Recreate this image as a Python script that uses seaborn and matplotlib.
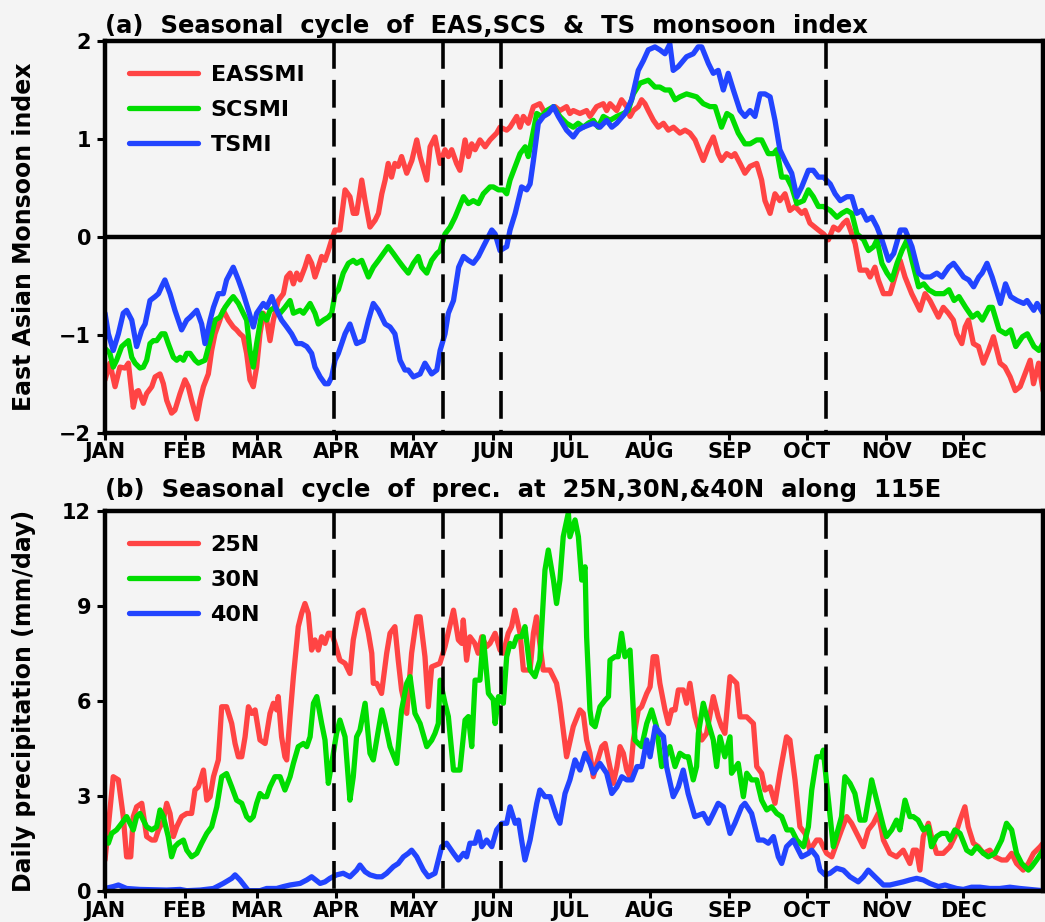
import matplotlib
matplotlib.use("Agg")
import matplotlib.pyplot as plt
import pandas as pd
import seaborn as sns

# ---------------------------------------------------------------- axes info
MONTHS = ["JAN", "FEB", "MAR", "APR", "MAY", "JUN",
          "JUL", "AUG", "SEP", "OCT", "NOV", "DEC"]
MONTH_START = [0, 31, 59, 90, 120, 151, 181, 212, 243, 273, 304, 334]
ONSET_DAYS = [89, 131.5, 154, 280.5]

# ------------------------------------------- (a) monsoon indices (day, value)
eas_day = [0, 1.9, 3.9, 5.8, 7.8, 9.1, 11.0, 12.3, 13.0, 14.9, 16.2, 18.2, 19.5, 21.4, 22.7, 24.0, 25.9, 27.2,
           29.2, 31.1, 32.4, 33.7, 35.7, 37.0, 38.3, 40.2, 41.5, 42.8, 44.7, 46.0, 48.0, 49.9, 51.2, 52.5,
           53.8, 55.1, 56.4, 57.7, 59.0, 60.3, 61.6, 62.9, 64.2, 65.5, 67.4, 69.4, 70.7, 72.0, 73.3, 74.6,
           75.9, 77.8, 79.1, 80.4, 81.7, 83.0, 84.3, 85.6, 86.9, 88.2, 89.5, 91.4, 93.4, 95.3, 96.6, 97.9,
           99.9, 101.2, 103.1, 105.1, 106.4, 107.7, 109.0, 110.2, 111.5, 112.8, 114.1, 115.4, 117.4, 119.4,
           121.3, 122.6, 125.2, 126.5, 128.4, 130.4, 132.3, 133.6, 134.9, 136.8, 138.1, 140.1, 141.4, 142.7,
           144.0, 145.9, 147.9, 149.8, 152.4, 153.7, 156.3, 157.6, 160.2, 161.5, 162.8, 164.7, 166.7, 169.2,
           171.2, 173.1, 175.1, 177.0, 179.6, 180.9, 182.2, 184.8, 187.4, 188.7, 191.3, 193.9, 195.2, 196.5,
           199.1, 201.0, 203.0, 204.3, 205.6, 207.5, 208.8, 210.1, 211.4, 213.4, 215.3, 217.3, 219.2, 221.2,
           223.7, 225.7, 227.6, 229.6, 232.8, 234.8, 236.7, 238.6, 239.9, 241.9, 243.8, 245.1, 247.1, 249.0,
           251.0, 253.6, 255.5, 256.8, 258.8, 260.7, 262.6, 264.6, 266.5, 268.5, 271.1, 272.4, 274.3, 277.6,
           279.6, 281.5, 283.5, 285.4, 287.4, 288.7, 290.6, 291.9, 293.8, 296.4, 297.7, 299.6, 300.9, 302.9,
           305.5, 307.4, 309.4, 311.3, 313.9, 317.1, 319.1, 321.0, 324.3, 326.2, 328.2, 330.1, 331.4, 333.4,
           334.7, 336.0, 337.9, 339.9, 341.8, 343.8, 345.7, 348.3, 350.2, 352.2, 354.2, 356.1, 360.0, 361.3,
           363.3, 365.0]
eas_val = [-1.46, -1.29, -1.53, -1.33, -1.34, -1.29, -1.74, -1.58, -1.57, -1.70, -1.60, -1.53, -1.43, -1.40,
           -1.50, -1.67, -1.80, -1.77, -1.60, -1.46, -1.53, -1.67, -1.86, -1.67, -1.53, -1.40, -1.16, -0.99,
           -0.85, -0.75, -0.85, -0.92, -0.95, -0.99, -1.02, -1.19, -1.46, -1.53, -1.33, -0.99, -0.78, -0.85,
           -1.06, -0.85, -0.65, -0.58, -0.41, -0.37, -0.48, -0.37, -0.44, -0.31, -0.20, -0.27, -0.41, -0.31,
           -0.20, -0.24, -0.14, -0.03, 0.07, 0.07, 0.48, 0.41, 0.24, 0.24, 0.58, 0.37, 0.10, 0.17, 0.24, 0.44,
           0.58, 0.75, 0.61, 0.75, 0.72, 0.82, 0.65, 0.78, 0.99, 0.82, 0.58, 0.92, 1.02, 0.75, 0.89, 0.82,
           0.89, 0.75, 0.68, 0.99, 0.82, 0.95, 0.89, 0.99, 0.92, 0.99, 1.06, 1.12, 1.09, 1.12, 1.23, 1.12,
           1.23, 1.16, 1.33, 1.36, 1.26, 1.29, 1.33, 1.29, 1.33, 1.26, 1.29, 1.26, 1.29, 1.23, 1.33, 1.36,
           1.29, 1.36, 1.29, 1.40, 1.33, 1.23, 1.29, 1.33, 1.40, 1.36, 1.29, 1.19, 1.12, 1.16, 1.09, 1.12,
           1.06, 1.09, 1.06, 0.99, 0.78, 0.92, 1.02, 0.85, 0.78, 0.85, 0.82, 0.85, 0.75, 0.65, 0.72, 0.75,
           0.58, 0.37, 0.24, 0.44, 0.37, 0.44, 0.27, 0.31, 0.24, 0.27, 0.14, 0.07, 0.03, -0.03, 0.10, 0.07,
           0.14, 0.17, 0.03, -0.07, -0.34, -0.34, -0.41, -0.31, -0.44, -0.58, -0.58, -0.41, -0.24, -0.41,
           -0.58, -0.75, -0.58, -0.65, -0.82, -0.72, -0.78, -0.85, -0.99, -1.09, -0.92, -0.85, -1.09, -1.12,
           -1.29, -1.16, -1.02, -1.29, -1.33, -1.43, -1.57, -1.53, -1.26, -1.50, -1.29, -1.57]

scs_day = [0, 1.9, 3.2, 4.5, 6.5, 7.8, 9.1, 10.4, 11.7, 13.6, 14.9, 16.2, 17.5, 18.8, 20.1, 22.0, 23.3, 24.6,
           26.6, 27.9, 29.2, 30.5, 31.8, 33.1, 35.0, 36.3, 38.9, 40.9, 42.8, 44.7, 46.7, 48.6, 49.9, 51.9,
           53.2, 55.1, 56.4, 57.7, 59.0, 61.0, 62.9, 64.2, 66.1, 68.1, 70.0, 72.0, 73.3, 75.9, 77.2, 79.8,
           81.7, 83.0, 85.0, 86.9, 88.2, 89.5, 90.8, 92.7, 94.7, 96.6, 97.9, 99.9, 102.5, 104.4, 106.4, 108.3,
           110.2, 112.2, 114.1, 116.1, 118.0, 120.0, 121.9, 123.2, 125.2, 127.1, 129.1, 130.4, 132.3, 134.3,
           136.2, 139.5, 141.4, 143.3, 145.3, 147.2, 149.8, 151.1, 153.1, 155.0, 156.3, 157.6, 159.6, 161.5,
           163.5, 164.7, 166.0, 168.0, 169.9, 171.9, 174.5, 177.0, 179.6, 182.2, 184.1, 186.1, 188.0, 190.0,
           191.9, 193.9, 196.5, 199.1, 201.7, 203.6, 205.6, 208.2, 211.4, 214.0, 215.9, 217.9, 219.8, 221.8,
           223.7, 226.3, 230.2, 232.8, 235.4, 237.4, 239.9, 242.0, 243.8, 246.4, 249.0, 251.0, 253.6, 255.5,
           258.1, 260.1, 261.4, 263.3, 265.3, 267.2, 269.2, 271.8, 273.7, 275.6, 277.6, 279.6, 282.2, 284.8,
           286.7, 288.7, 290.6, 292.6, 295.2, 297.1, 299.1, 300.4, 302.3, 304.3, 306.2, 308.2, 310.1, 312.1,
           314.0, 316.6, 318.6, 320.5, 323.1, 326.4, 328.4, 330.4, 332.3, 334.9, 337.5, 339.5, 341.4, 344.0,
           345.3, 347.9, 350.5, 352.4, 354.4, 357.0, 358.9, 361.5, 363.4, 365.0]
scs_val = [-1.14, -1.19, -1.33, -1.26, -1.12, -1.09, -1.06, -1.23, -1.29, -1.34, -1.33, -1.26, -1.09, -1.06,
           -1.06, -0.99, -0.99, -1.09, -1.23, -1.26, -1.23, -1.26, -1.19, -1.19, -1.26, -1.29, -1.26, -1.06,
           -0.85, -0.82, -0.72, -0.65, -0.61, -0.68, -0.75, -0.85, -1.16, -1.33, -1.09, -0.78, -0.85, -0.75,
           -0.72, -0.78, -0.72, -0.65, -0.78, -0.75, -0.78, -0.68, -0.78, -0.89, -0.85, -0.82, -0.78, -0.58,
           -0.54, -0.37, -0.27, -0.24, -0.27, -0.24, -0.41, -0.31, -0.24, -0.17, -0.10, -0.17, -0.24, -0.31,
           -0.37, -0.27, -0.20, -0.31, -0.37, -0.24, -0.17, -0.14, 0.03, 0.10, 0.20, 0.41, 0.34, 0.37, 0.34,
           0.44, 0.51, 0.51, 0.48, 0.48, 0.44, 0.58, 0.72, 0.85, 0.92, 0.82, 0.99, 1.26, 1.23, 1.29, 1.33,
           1.23, 1.16, 1.12, 1.16, 1.12, 1.16, 1.19, 1.12, 1.23, 1.19, 1.23, 1.26, 1.29, 1.46, 1.57, 1.60,
           1.53, 1.53, 1.50, 1.50, 1.40, 1.43, 1.46, 1.43, 1.36, 1.33, 1.33, 1.12, 1.26, 1.23, 1.06, 0.95,
           0.95, 0.99, 0.99, 0.85, 0.85, 0.89, 0.61, 0.61, 0.51, 0.34, 0.37, 0.48, 0.41, 0.31, 0.31, 0.27,
           0.20, 0.24, 0.27, 0.24, 0.03, -0.03, -0.14, -0.10, -0.03, -0.27, -0.37, -0.44, -0.27, -0.14, -0.03,
           -0.24, -0.51, -0.48, -0.54, -0.58, -0.58, -0.54, -0.65, -0.61, -0.72, -0.82, -0.78, -0.85, -0.72,
           -0.72, -0.95, -0.99, -0.95, -1.12, -1.02, -0.99, -1.12, -1.16, -1.09]

ts_day = [0, 1.3, 3.2, 5.2, 7.1, 8.4, 10.4, 12.3, 14.3, 15.6, 17.5, 19.5, 20.8, 22.0, 23.3, 25.3, 27.2, 29.8,
          31.8, 33.1, 35.7, 37.6, 38.9, 40.9, 42.2, 44.1, 46.0, 47.3, 49.9, 51.9, 53.8, 55.8, 57.7, 59.0,
          61.6, 62.9, 64.9, 66.8, 68.7, 70.7, 72.6, 74.6, 76.5, 78.5, 80.4, 81.7, 83.7, 85.6, 86.9, 88.2,
          89.5, 90.8, 93.4, 95.3, 97.9, 100.5, 102.5, 104.4, 106.4, 109.0, 110.9, 112.8, 114.8, 116.7, 118.0,
          120.0, 122.6, 124.5, 127.1, 129.1, 130.4, 132.3, 133.6, 135.6, 137.6, 139.5, 141.4, 143.3, 145.3,
          147.2, 150.5, 151.8, 153.7, 156.3, 157.6, 159.6, 162.1, 164.1, 165.4, 166.7, 168.6, 170.6, 172.5,
          174.5, 176.4, 179.6, 182.2, 184.1, 186.1, 190.0, 192.6, 195.2, 197.2, 199.1, 202.4, 204.9, 207.5,
          209.5, 211.4, 214.0, 215.9, 217.9, 219.8, 221.1, 223.1, 226.3, 228.9, 230.8, 232.2, 234.8, 236.7,
          238.6, 240.6, 242.5, 244.5, 247.1, 249.0, 251.0, 252.9, 254.9, 256.8, 258.8, 260.7, 262.6, 264.6,
          267.2, 269.2, 271.1, 273.7, 275.6, 277.6, 279.6, 282.2, 284.1, 286.1, 288.7, 290.6, 292.5, 294.5,
          296.4, 298.4, 300.4, 302.3, 304.9, 306.9, 309.5, 311.4, 314.0, 316.6, 318.6, 321.2, 323.7, 325.7,
          328.3, 330.2, 332.2, 334.1, 336.1, 338.0, 340.0, 341.3, 343.2, 345.2, 347.2, 348.4, 350.4, 352.4,
          354.9, 357.5, 358.8, 361.4, 362.7, 365.0]
ts_val = [-0.78, -0.99, -1.16, -0.99, -0.78, -0.75, -0.85, -1.12, -0.95, -0.89, -0.65, -0.61, -0.58, -0.51,
          -0.44, -0.58, -0.75, -0.95, -0.85, -0.82, -0.75, -0.89, -1.09, -0.85, -0.72, -0.58, -0.58, -0.44,
          -0.31, -0.44, -0.58, -0.75, -0.92, -0.78, -0.68, -0.72, -0.61, -0.75, -0.85, -0.92, -0.99, -1.09,
          -1.09, -1.12, -1.19, -1.33, -1.43, -1.50, -1.50, -1.43, -1.26, -1.19, -0.99, -0.89, -1.09, -1.06,
          -0.85, -0.68, -0.75, -0.89, -0.92, -0.99, -1.26, -1.36, -1.36, -1.43, -1.40, -1.29, -1.40, -1.36,
          -1.16, -0.99, -0.78, -0.65, -0.31, -0.20, -0.24, -0.27, -0.20, -0.10, 0.07, 0.03, -0.14, -0.10,
          0.07, 0.24, 0.51, 0.48, 0.54, 0.78, 1.16, 1.23, 1.26, 1.33, 1.23, 1.09, 1.02, 1.09, 1.12, 1.16,
          1.12, 1.19, 1.12, 1.16, 1.26, 1.40, 1.70, 1.80, 1.91, 1.94, 1.91, 1.87, 1.97, 1.70, 1.74, 1.84,
          1.87, 1.94, 1.94, 1.77, 1.67, 1.70, 1.50, 1.67, 1.50, 1.29, 1.23, 1.29, 1.23, 1.46, 1.46, 1.43,
          1.19, 0.89, 0.78, 0.65, 0.41, 0.51, 0.68, 0.68, 0.61, 0.61, 0.54, 0.44, 0.37, 0.41, 0.41, 0.24,
          0.27, 0.17, 0.20, 0.10, -0.03, -0.24, -0.17, 0.07, 0.07, -0.10, -0.37, -0.41, -0.41, -0.37, -0.41,
          -0.31, -0.27, -0.34, -0.41, -0.44, -0.51, -0.41, -0.37, -0.27, -0.41, -0.58, -0.68, -0.48, -0.61,
          -0.65, -0.68, -0.65, -0.75, -0.68, -0.78]

# ---------------------------------------- (b) daily precipitation (day, mm/day)
p25_day = [0, 3.2, 5.2, 7.1, 8.4, 10.0, 11.0, 12.3, 14.3, 16.2, 18.2, 19.5, 20.8, 22.7, 24.0, 25.3, 26.6, 27.9,
           29.8, 31.8, 33.7, 35.0, 36.3, 38.3, 39.6, 40.9, 42.2, 44.1, 45.4, 47.3, 49.3, 50.6, 51.9, 53.2,
           54.5, 55.8, 57.1, 58.4, 60.3, 62.3, 64.2, 65.5, 66.8, 67.4, 68.7, 70.0, 70.7, 72.0, 73.3, 75.2,
           76.5, 77.8, 79.1, 80.4, 81.7, 83.0, 84.3, 85.6, 86.9, 88.2, 89.5, 91.4, 93.4, 95.3, 96.6, 98.6,
           100.5, 102.5, 103.8, 104.4, 105.7, 107.6, 109.6, 110.9, 112.8, 114.1, 115.4, 117.4, 119.3, 121.3,
           122.6, 124.5, 125.8, 127.1, 130.3, 132.3, 135.6, 137.5, 138.8, 139.4, 140.7, 142.0, 143.9, 145.2,
           146.6, 148.5, 149.8, 151.8, 153.7, 155.0, 156.9, 158.2, 159.5, 161.5, 162.8, 165.4, 166.7, 167.9,
           170.5, 173.1, 175.7, 177.0, 179.6, 182.2, 184.8, 186.1, 187.4, 188.7, 190.0, 191.3, 193.3, 194.6,
           195.9, 197.8, 199.2, 200.4, 201.7, 203.0, 204.3, 205.6, 207.5, 208.8, 210.8, 212.1, 213.3, 214.6,
           215.9, 217.9, 219.2, 220.5, 221.8, 223.1, 225.0, 226.3, 227.6, 229.6, 232.2, 234.1, 236.7, 238.6,
           239.9, 241.2, 243.2, 245.8, 247.1, 249.7, 252.3, 253.6, 255.5, 256.8, 258.8, 260.7, 262.6, 265.2,
           266.5, 268.5, 270.4, 272.4, 274.3, 276.9, 278.2, 280.8, 282.8, 284.7, 286.6, 288.6, 290.5, 292.5,
           295.1, 297.0, 299.0, 300.9, 302.9, 305.4, 308.0, 310.6, 313.2, 314.5, 315.8, 317.1, 318.4, 320.4,
           321.6, 323.6, 326.2, 328.8, 330.7, 332.7, 334.6, 335.9, 337.9, 339.8, 341.8, 344.3, 346.3, 348.9,
           350.8, 352.8, 354.7, 357.3, 359.3, 361.3, 363.9, 365.0]
p25_val = [0.98, 3.61, 3.51, 2.35, 1.08, 1.08, 2.35, 2.66, 2.77, 1.72, 1.61, 1.61, 1.93, 2.24, 2.77, 2.45, 1.72,
           2.03, 2.35, 2.45, 2.45, 3.19, 3.29, 3.82, 2.87, 2.98, 3.61, 4.14, 5.82, 5.82, 5.29, 4.66, 4.24, 4.24,
           4.87, 5.82, 5.61, 5.72, 4.77, 4.66, 5.61, 5.93, 5.72, 6.14, 4.87, 4.24, 4.14, 5.51, 6.77, 8.35, 8.77,
           9.08, 8.77, 7.61, 7.93, 7.61, 8.03, 7.82, 8.14, 8.14, 7.82, 7.29, 7.19, 6.87, 7.93, 8.77, 8.87, 8.14,
           7.51, 6.56, 6.56, 6.24, 7.51, 8.14, 8.35, 7.29, 6.35, 5.61, 7.51, 8.66, 8.66, 7.40, 5.82, 7.08, 7.19,
           7.72, 8.87, 7.93, 7.82, 8.56, 7.29, 8.03, 7.82, 7.51, 8.03, 7.72, 7.82, 8.14, 7.61, 7.51, 8.14, 8.35,
           8.87, 8.14, 6.98, 6.98, 8.14, 8.66, 6.98, 6.98, 6.56, 5.93, 4.24, 5.19, 5.72, 5.61, 4.77, 4.35, 3.61,
           4.03, 4.56, 4.66, 4.14, 3.40, 3.93, 4.56, 4.35, 3.82, 3.61, 4.77, 5.72, 5.82, 6.24, 6.45, 7.40, 7.40,
           6.56, 5.72, 5.29, 5.72, 5.72, 6.35, 6.35, 5.93, 6.56, 5.50, 4.77, 4.98, 6.14, 5.50, 5.19, 4.98, 6.77,
           6.56, 5.50, 5.50, 5.29, 3.93, 3.72, 3.19, 3.29, 2.77, 3.72, 4.87, 4.77, 3.51, 2.03, 1.82, 1.29, 1.61,
           1.61, 1.19, 1.08, 1.51, 1.93, 2.35, 2.14, 1.82, 1.40, 1.93, 2.14, 2.45, 1.61, 1.19, 1.08, 1.29, 0.87,
           1.29, 1.29, 0.66, 1.72, 2.14, 1.72, 1.19, 1.19, 1.40, 1.72, 2.24, 2.66, 2.03, 1.51, 1.40, 1.19, 1.29,
           1.08, 0.98, 0.98, 1.19, 0.87, 0.66, 0.87, 1.19, 1.40, 1.51]

p30_day = [0, 1.3, 2.6, 4.5, 6.5, 8.4, 9.7, 11.0, 12.3, 13.6, 14.9, 16.2, 18.2, 20.1, 21.4, 22.7, 24.6, 25.9,
           27.2, 28.5, 30.5, 31.8, 33.7, 35.7, 37.6, 39.6, 41.5, 43.5, 45.4, 47.3, 49.3, 51.2, 53.2, 55.1,
           56.4, 57.7, 59.0, 60.3, 61.6, 62.9, 64.2, 66.1, 68.1, 70.0, 72.0, 73.3, 75.2, 77.2, 78.5, 79.8,
           81.1, 82.4, 84.3, 85.6, 86.9, 88.2, 90.1, 91.4, 93.4, 95.3, 96.6, 97.9, 99.2, 101.2, 103.1, 104.4,
           105.7, 107.7, 109.0, 110.9, 113.5, 115.4, 117.4, 118.7, 120.6, 122.6, 125.2, 127.1, 128.4, 129.7,
           130.4, 132.3, 133.6, 135.6, 138.1, 140.1, 141.4, 142.7, 144.0, 145.9, 147.2, 149.2, 151.1, 151.8,
           153.1, 155.0, 156.3, 157.6, 158.9, 160.2, 162.1, 163.4, 165.4, 167.3, 169.2, 171.2, 172.5, 174.5,
           175.7, 177.0, 178.3, 180.3, 180.9, 182.9, 184.2, 185.5, 186.8, 187.4, 188.7, 189.4, 190.7, 192.6,
           194.6, 195.9, 196.5, 198.4, 199.7, 201.0, 202.3, 204.3, 206.2, 207.5, 208.8, 210.8, 212.7, 214.6,
           216.6, 219.8, 221.8, 223.7, 225.7, 227.0, 228.9, 230.2, 230.9, 232.8, 234.8, 236.7, 238.0, 239.3,
           241.2, 243.2, 243.8, 246.4, 248.4, 249.7, 251.6, 253.6, 255.5, 257.5, 259.4, 261.4, 263.3, 265.3,
           267.2, 269.2, 271.8, 273.7, 275.0, 277.0, 278.9, 279.5, 280.8, 283.4, 286.6, 287.9, 289.9, 291.8,
           293.8, 295.7, 297.7, 298.3, 300.3, 302.9, 304.1, 306.1, 308.0, 309.3, 311.3, 313.2, 314.5, 316.4,
           318.4, 320.4, 321.6, 323.6, 325.5, 327.5, 328.8, 330.7, 332.7, 335.3, 337.2, 339.2, 341.8, 343.7,
           346.3, 348.9, 350.8, 352.8, 354.7, 356.7, 359.3, 360.6, 362.5, 365.0]
p30_val = [1.72, 1.51, 1.82, 1.93, 2.14, 2.35, 2.14, 1.93, 2.35, 2.45, 2.24, 2.03, 1.93, 2.03, 2.56, 2.35, 1.72,
           1.08, 1.40, 1.51, 1.61, 1.29, 1.08, 1.19, 1.51, 1.82, 2.03, 2.66, 3.61, 3.71, 3.29, 2.87, 2.77, 2.35,
           2.24, 2.35, 2.77, 3.08, 2.98, 2.98, 3.29, 3.61, 3.61, 3.19, 3.61, 4.03, 4.56, 4.66, 4.56, 4.87, 5.93,
           6.14, 5.29, 4.77, 3.40, 4.03, 4.98, 5.40, 4.87, 2.87, 3.61, 4.87, 5.08, 5.93, 4.35, 4.14, 4.76, 5.72,
           5.29, 4.56, 4.03, 5.72, 6.56, 6.77, 5.61, 5.29, 4.56, 4.76, 4.98, 5.29, 6.66, 5.93, 5.51, 3.82, 3.82,
           5.40, 5.51, 4.56, 6.66, 6.66, 8.03, 6.24, 6.04, 5.29, 6.14, 5.93, 7.40, 7.82, 7.72, 8.03, 8.03, 8.35,
           6.98, 6.77, 7.29, 10.14, 10.77, 9.82, 9.08, 9.82, 11.19, 11.95, 11.19, 11.72, 11.19, 9.82, 10.24,
           8.03, 5.72, 5.29, 5.19, 5.82, 6.03, 6.14, 7.29, 7.40, 7.40, 8.14, 7.40, 7.61, 4.77, 4.66, 4.56, 5.29,
           5.72, 5.19, 3.93, 4.56, 3.93, 4.35, 4.24, 4.24, 3.51, 3.93, 4.98, 5.93, 5.30, 4.77, 3.93, 4.87, 4.24,
           4.87, 3.72, 4.03, 2.98, 3.72, 3.51, 3.51, 2.87, 2.56, 2.66, 2.45, 2.35, 1.93, 1.93, 1.61, 1.40, 2.03,
           3.19, 4.24, 4.24, 4.45, 3.40, 1.40, 2.35, 3.61, 3.40, 3.08, 2.24, 2.24, 3.19, 3.51, 2.87, 2.03, 1.72,
           1.93, 2.24, 1.93, 2.87, 2.35, 2.35, 2.24, 1.93, 2.03, 1.40, 1.72, 1.82, 1.82, 1.61, 1.93, 1.82, 1.29,
           1.19, 1.40, 1.19, 1.08, 1.19, 1.61, 2.14, 1.93, 1.19, 0.87, 0.66, 0.77, 0.98, 1.29]

p40_day = [0, 3.2, 5.2, 8.4, 13.6, 24.0, 29.2, 31.8, 37.0, 42.2, 46.0, 49.3, 50.6, 52.5, 55.8, 60.3, 62.9, 66.8,
           69.4, 72.0, 75.9, 78.5, 80.4, 83.7, 85.6, 87.5, 90.1, 92.7, 95.3, 97.9, 99.2, 101.2, 103.1, 105.7,
           107.7, 109.6, 112.2, 114.1, 116.1, 118.0, 119.3, 121.3, 123.9, 125.8, 128.4, 129.7, 131.0, 132.9,
           135.6, 137.5, 139.5, 140.7, 142.0, 144.0, 145.3, 146.6, 148.5, 150.5, 152.4, 154.4, 156.3, 157.6,
           159.6, 160.9, 162.1, 163.4, 165.4, 168.0, 169.2, 171.2, 173.2, 175.7, 177.0, 179.0, 180.9, 182.9,
           184.8, 186.8, 188.7, 190.0, 192.6, 195.2, 197.2, 199.2, 201.1, 203.0, 205.0, 207.0, 208.9, 210.8,
           212.1, 214.1, 216.0, 217.3, 218.5, 221.1, 223.1, 225.0, 226.9, 229.5, 232.8, 234.8, 236.7, 238.6,
           240.6, 243.2, 245.1, 247.7, 249.0, 251.6, 254.2, 256.2, 258.1, 260.1, 262.0, 263.3, 265.2, 267.8,
           269.8, 271.1, 273.7, 275.0, 277.0, 278.2, 280.2, 282.1, 284.7, 287.3, 289.9, 293.1, 295.1, 297.0,
           299.6, 302.9, 305.4, 308.0, 310.6, 313.2, 315.8, 318.4, 321.0, 324.3, 326.9, 328.8, 331.4, 334.0,
           337.2, 340.5, 344.3, 348.2, 352.1, 356.0, 359.9, 365.0]
p40_val = [0.08, 0.14, 0.19, 0.08, 0.05, 0.03, 0.05, 0.01, 0.03, 0.08, 0.24, 0.40, 0.51, 0.35, 0.01, 0.01, 0.08,
           0.08, 0.14, 0.19, 0.24, 0.35, 0.45, 0.24, 0.29, 0.40, 0.51, 0.56, 0.45, 0.66, 0.82, 0.61, 0.51, 0.45,
           0.45, 0.56, 0.77, 0.87, 1.08, 1.19, 1.29, 1.08, 0.66, 0.45, 0.56, 0.98, 1.40, 1.51, 1.19, 0.98, 1.19,
           1.08, 1.51, 1.51, 1.87, 1.40, 1.61, 1.40, 1.93, 2.14, 2.14, 2.66, 2.14, 2.24, 1.61, 0.98, 1.61, 2.77,
           3.19, 2.98, 2.98, 2.35, 2.14, 3.08, 3.51, 4.14, 3.82, 4.35, 4.03, 3.72, 4.03, 3.72, 3.08, 3.29, 3.61,
           3.51, 3.51, 3.93, 3.93, 4.77, 4.24, 5.19, 4.98, 4.88, 3.93, 2.98, 3.29, 3.82, 3.08, 2.35, 2.45, 2.14,
           2.45, 2.77, 2.66, 1.82, 2.14, 2.66, 2.77, 2.45, 1.61, 1.61, 1.51, 1.72, 1.08, 0.87, 1.40, 1.61, 1.29,
           1.08, 1.19, 1.29, 1.08, 0.66, 0.51, 0.56, 0.72, 0.66, 0.45, 0.29, 0.45, 0.66, 0.45, 0.19, 0.19, 0.24,
           0.29, 0.35, 0.40, 0.35, 0.24, 0.14, 0.19, 0.14, 0.08, 0.05, 0.12, 0.12, 0.08, 0.08, 0.12, 0.08, 0.05,
           0.01]

# ------------------------------------------------------------------- styling
BG = "#f4f4f4"
RED, GREEN, BLUE = "#ff4444", "#00dd00", "#2244ff"
LW = 3.8

sns.set_style("ticks")
plt.rcParams.update({
    "font.family": ["DejaVu Sans"],
    "font.weight": "bold",
    "text.color": "black",
    "axes.labelcolor": "black",
    "axes.labelweight": "bold",
    "axes.edgecolor": "black",
    "axes.linewidth": 3.2,
    "lines.scale_dashes": False,
    "xtick.color": "black",
    "ytick.color": "black",
    "xtick.labelcolor": "black",
    "ytick.labelcolor": "black",
})


def long_frame(series):
    parts = [pd.DataFrame({"day": d, "value": v, "series": name}) for name, d, v in series]
    return pd.concat(parts, ignore_index=True)


def style_axes(ax, ylim, yticks, ylabel):
    ax.set_facecolor(BG)
    ax.set_xlim(0, 365)
    ax.set_ylim(*ylim)
    ax.set_xticks(MONTH_START)
    ax.set_xticklabels(MONTHS)
    ax.set_yticks(yticks)
    ax.tick_params(axis="x", direction="out", length=5, width=2.2, pad=2, labelsize=15,
                   colors="black")
    ax.tick_params(axis="y", direction="out", length=6, width=2.2, pad=4, labelsize=15,
                   colors="black")
    for lab in ax.get_xticklabels() + ax.get_yticklabels():
        lab.set_fontweight("bold")
    ax.set_xlabel("")
    ax.set_ylabel(ylabel, fontsize=17, fontweight="bold", color="black")
    ax.yaxis.set_label_coords(-0.074, 0.5)
    for sp in ax.spines.values():
        sp.set_visible(True)
        sp.set_linewidth(3.2)
        sp.set_color("black")
    # onset / retreat markers, dashed from the top of the frame downwards
    ax.vlines(ONSET_DAYS, ylim[1], ylim[0], colors="black", linewidth=2.6,
              linestyles=[(0, (20, 8))], zorder=6)


def place_legend(ax, anchor):
    sns.move_legend(ax, "upper left", bbox_to_anchor=anchor, frameon=False, title=None,
                    fontsize=16, handlelength=3.1, handletextpad=0.55, labelspacing=0.67,
                    borderpad=0, borderaxespad=0)
    leg = ax.get_legend()
    for h in leg.legend_handles:
        h.set_linewidth(LW)
    for t in leg.get_texts():
        t.set_fontweight("bold")
        t.set_color("black")


fig = plt.figure(figsize=(10.45, 9.22), dpi=100, facecolor=BG)
ax_a = fig.add_axes([0.1005, 0.5307, 0.8976, 0.4248])
ax_b = fig.add_axes([0.1005, 0.0336, 0.8976, 0.4121])

# (a) monsoon indices
df_a = long_frame([("EASSMI", eas_day, eas_val),
                   ("SCSMI", scs_day, scs_val),
                   ("TSMI", ts_day, ts_val)])
sns.lineplot(data=df_a, x="day", y="value", hue="series",
             hue_order=["EASSMI", "SCSMI", "TSMI"], palette=[RED, GREEN, BLUE],
             estimator=None, sort=False, linewidth=LW, ax=ax_a)
ax_a.axhline(0, color="black", linewidth=3.2, zorder=5)
style_axes(ax_a, (-2, 2), [-2, -1, 0, 1, 2], "East Asian Monsoon index")
place_legend(ax_a, (0.026, 0.939))

# (b) daily precipitation along 115E
df_b = long_frame([("25N", p25_day, p25_val),
                   ("30N", p30_day, p30_val),
                   ("40N", p40_day, p40_val)])
sns.lineplot(data=df_b, x="day", y="value", hue="series",
             hue_order=["25N", "30N", "40N"], palette=[RED, GREEN, BLUE],
             estimator=None, sort=False, linewidth=LW, ax=ax_b)
style_axes(ax_b, (0, 12), [0, 3, 6, 9, 12], "Daily precipitation (mm/day)")
place_legend(ax_b, (0.026, 0.937))

fig.text(0.1005, 1 - 33 / 922, "(a)  Seasonal  cycle  of  EAS,SCS  &  TS  monsoon  index",
         fontsize=17.5, fontweight="bold", ha="left", va="baseline", color="black")
fig.text(0.1005, 1 - 497 / 922, "(b)  Seasonal  cycle  of  prec.  at  25N,30N,&40N  along  115E",
         fontsize=17.5, fontweight="bold", ha="left", va="baseline", color="black")

fig.savefig("out.png", dpi=100, facecolor=BG)
